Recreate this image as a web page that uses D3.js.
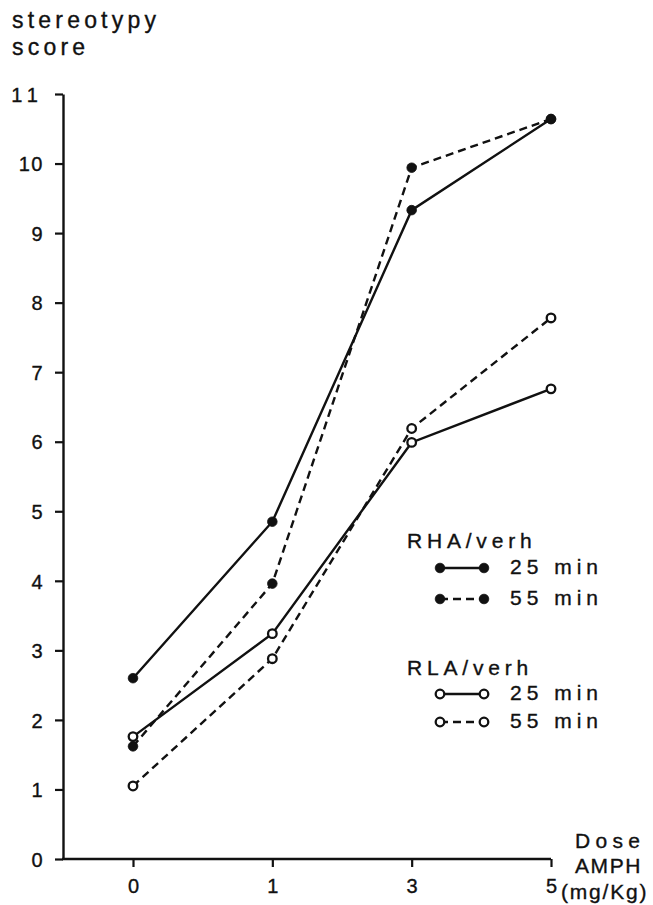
<!DOCTYPE html>
<html>
<head>
<meta charset="utf-8">
<script src="https://cdn.jsdelivr.net/npm/d3@7"></script>
<style>
  html, body { margin: 0; padding: 0; background: #fff; }
  svg text { font-family: "Liberation Sans", Arial, Helvetica, sans-serif; fill: #111; stroke: #111; stroke-width: 0.35px; }
</style>
</head>
<body>
<svg id="chart" width="653" height="905"></svg>
<script>
// ---- data ----
const doses = ["0", "1", "3", "5"];
const yTicks = [0, 1, 2, 3, 4, 5, 6, 7, 8, 9, 10, 11];
const rha25 = [2.6, 4.85, 9.33, 10.64];
const rha55 = [1.62, 3.96, 9.94, 10.64];
const rla25 = [1.76, 3.24, 5.99, 6.76];
const rla55 = [1.05, 2.88, 6.19, 7.78];

const series = [
  { name: "RHA/verh 25 min", values: rha25, filled: true, dashed: false },
  { name: "RHA/verh 55 min", values: rha55, filled: true, dashed: true },
  { name: "RLA/verh 25 min", values: rla25, filled: false, dashed: false },
  { name: "RLA/verh 55 min", values: rla55, filled: false, dashed: true }
];

const svg = d3.select("#chart");
const ink = "#111";

const x = d3.scalePoint().domain(doses).range([133, 551]);
const y = d3.scaleLinear().domain([0, 11]).range([859, 94]);
const axisLeftX = 63;

// ---- y axis ----
const gy = svg.append("g").attr("transform", `translate(${axisLeftX},0)`)
  .call(d3.axisLeft(y).tickValues(yTicks).tickSize(8).tickPadding(11).tickSizeOuter(0));
gy.select(".domain").attr("stroke", ink).attr("stroke-width", 2.4);
gy.selectAll(".tick line").attr("stroke", ink).attr("stroke-width", 2.2);
gy.selectAll(".tick text")
  .attr("font-size", 20).attr("fill", ink).attr("font-family", null)
  .attr("letter-spacing", d => d === 11 ? 6 : 1.5).attr("dy", "0.36em");

// ---- x axis ----
const gx = svg.append("g").attr("transform", `translate(0,${y(0)})`)
  .call(d3.axisBottom(x).tickSize(8).tickPadding(12).tickSizeOuter(0));
gx.select(".domain").attr("stroke", ink).attr("stroke-width", 2.4)
  .attr("d", `M${axisLeftX - 1},0H${x("5")}`);
gx.selectAll(".tick line").attr("stroke", ink).attr("stroke-width", 2.2);
gx.selectAll(".tick text").attr("font-size", 20).attr("fill", ink).attr("font-family", null);

// ---- lines ----
const line = d3.line().x((d, i) => x(doses[i])).y(d => y(d));
series.forEach(s => {
  svg.append("path")
    .datum(s.values)
    .attr("d", line)
    .attr("fill", "none")
    .attr("stroke", ink)
    .attr("stroke-width", 2.4)
    .attr("stroke-dasharray", s.dashed ? "8,5" : null);
});
series.forEach(s => {
  svg.append("g").selectAll("circle")
    .data(s.values)
    .join("circle")
    .attr("cx", (d, i) => x(doses[i]))
    .attr("cy", d => y(d))
    .attr("r", s.filled ? 4.8 : 4.3)
    .attr("fill", s.filled ? ink : "#fff")
    .attr("stroke", ink)
    .attr("stroke-width", s.filled ? 0.8 : 2.3);
});

// ---- titles ----
const txt = (t, px, py, size, ls, anchor) =>
  svg.append("text").attr("x", px).attr("y", py).attr("font-size", size)
    .attr("letter-spacing", ls).attr("text-anchor", anchor || "start").text(t);

txt("stereotypy", 12, 28, 23, 4.2);
txt("score", 12, 55, 23, 4.2);
txt("Dose", 575, 848, 21, 5.3);
txt("AMPH", 575, 873, 21, 1.6);
txt("(mg/Kg)", 561, 899, 21, 1.8);

// ---- legend ----
const legendGroups = [
  { title: "RHA/verh", ty: 548, rows: [ {s: series[0], y: 568, label: "25 min"}, {s: series[1], y: 599, label: "55 min"} ] },
  { title: "RLA/verh", ty: 675, rows: [ {s: series[2], y: 694, label: "25 min"}, {s: series[3], y: 722, label: "55 min"} ] }
];
legendGroups.forEach(g => {
  txt(g.title, 407, g.ty, 21, 4.8);
  g.rows.forEach(r => {
    svg.append("line").attr("x1", 440).attr("x2", 484).attr("y1", r.y).attr("y2", r.y)
      .attr("stroke", ink).attr("stroke-width", 2.4)
      .attr("stroke-dasharray", r.s.dashed ? "8,5" : null);
    [440, 484].forEach(cx => svg.append("circle").attr("cx", cx).attr("cy", r.y)
      .attr("r", r.s.filled ? 4.8 : 4.3)
      .attr("fill", r.s.filled ? ink : "#fff")
      .attr("stroke", ink).attr("stroke-width", r.s.filled ? 0.8 : 2.3));
    txt(r.label, 510, r.y + 6, 21, 5);
  });
});
</script>
</body>
</html>
